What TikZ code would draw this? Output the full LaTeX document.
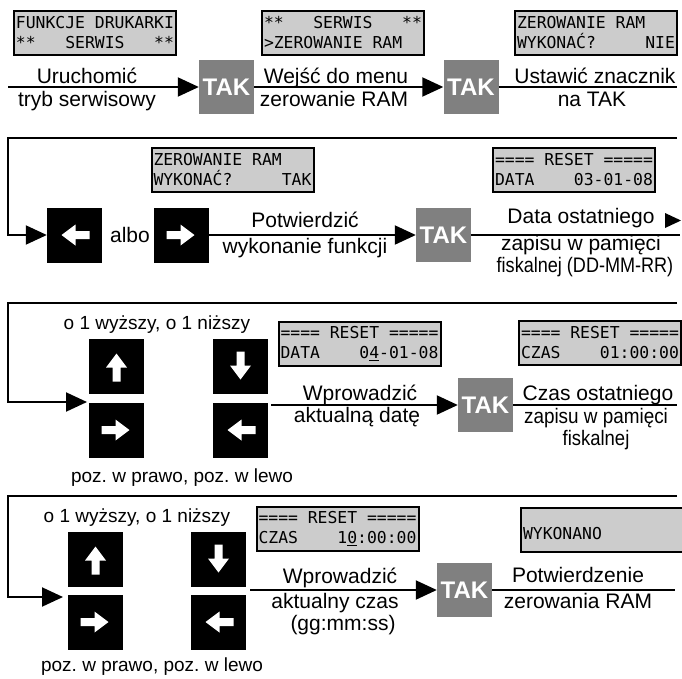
\documentclass[tikz,border=0pt]{standalone}
\usepackage{fontspec}
\setmainfont{Liberation Sans}
\newfontfamily\lcdfont{DejaVu Sans Mono}
\usepackage{graphicx}
\usetikzlibrary{arrows.meta}
\definecolor{lcdgrey}{RGB}{204,204,204}
\definecolor{takgrey}{RGB}{128,128,128}
\frenchspacing
\newcommand\lcdspace{\spaceskip=0.602em\relax}
\tikzset{
  flow/.style={line width=2pt},
  flowarr/.style={line width=2pt,-{Triangle[length=21pt,width=19pt]}},
  lcd/.style={draw,line width=2pt,fill=lcdgrey,inner xsep=2pt,inner ysep=2pt,text width=158pt,minimum height=44pt,align=left,font=\lcdfont\fontsize{16.4}{20}\selectfont,execute at begin node=\lcdspace},
  tak/.style={fill=takgrey,text=white,minimum width=55pt,minimum height=54pt,inner sep=0pt,font=\bfseries\fontsize{24}{24}\selectfont},
  key/.style={fill=black,minimum size=55pt,inner sep=0pt},
  lbl/.style={anchor=base,inner sep=0pt,font=\fontsize{21}{24}\selectfont},
  keylbl/.style={anchor=base,inner sep=0pt,font=\fontsize{19}{22}\selectfont},
  keyarr/.pic={\fill[white] (-13,0) -- (1,-10.5) -- (1,-4) -- (15,-4) -- (15,4) -- (1,4) -- (1,10.5) -- cycle;}
}
\begin{document}
\begin{tikzpicture}[x=1pt,y=-1pt]
\useasboundingbox (0,0) rectangle (682,678);

\node[lcd] (lcd1) at (95,33) {FUNKCJE~DRUKARKI\\{}**~~~SERWIS~~~**};
\node[lcd] (lcd2) at (343,33) {**~~~SERWIS~~~**\\>ZEROWANIE~RAM};
\node[lcd] (lcd3) at (596,33) {ZEROWANIE~RAM\\WYKONAĆ?~~~~~NIE};
\node[tak] (tak1) at (226.5,87) {TAK};
\node[tak] (tak2) at (471,87) {TAK};
\coordinate (s1) at (8,87);
\coordinate (e1) at (677,87);
\draw[flowarr] (s1) -- (tak1.west);
\draw[flowarr] (tak1.east) -- (tak2.west);
\draw[flow] (tak2.east) -- (e1);
\node[lbl] (u1) at (87,83) {Uruchomić};
\node[lbl] (u2) at (87,106) {tryb serwisowy};
\node[lbl] (w1) at (336,83) {Wejść do menu};
\node[lbl] (w2) at (334,106) {zerowanie RAM};
\node[lbl] (z1) at (595,83) {Ustawić znacznik};
\node[lbl] (z2) at (592,106) {na TAK};

\node[lcd] (lcd4) at (232.5,170) {ZEROWANIE~RAM\\WYKONAĆ?~~~~~TAK};
\node[lcd] (lcd5) at (574,170) {====~RESET~=====\\DATA~~~~03-01-08};
\node[key] (kl2) at (74.5,235) {};
\pic at (kl2) {keyarr};
\node[key] (kr2) at (181.5,235) {};
\pic[rotate=180] at (kr2) {keyarr};
\node[tak] (tak3) at (443.5,235) {TAK};
\coordinate (r2a) at (677,138);
\coordinate (r2b) at (8,138);
\coordinate (e2) at (680,235);
\draw[flowarr] (r2a) -- (r2b) |- (kl2.west);
\draw[flowarr] (kr2.east) -- (tak3.west);
\draw[flow] (tak3.east) -- (e2);
\fill (665,213) -- (681,220.5) -- (665,228) -- cycle;
\node[lbl] (albo) at (130,242) {albo};
\node[lbl] (p1) at (305,227) {Potwierdzić};
\node[lbl] (p2) at (305,253) {wykonanie funkcji};
\node[lbl] (d1) at (581,223) {Data ostatniego};
\node[lbl] (d2) at (581,250) {zapisu w pamięci};
\node[lbl] (d3) at (585,272) {\scalebox{0.86}[1]{fiskalnej (DD-MM-RR)}};

\node[lcd] (lcd6) at (359.5,343.5) {====~RESET~=====\\DATA~~~~0\underline{4}-01-08};
\node[lcd] (lcd7) at (600,343) {====~RESET~=====\\CZAS~~~~01:00:00};
\node[key] (up3) at (116.5,366.5) {};
\pic[rotate=-90] at (up3) {keyarr};
\node[key] (rt3) at (116.5,430) {};
\pic[rotate=180] at (rt3) {keyarr};
\node[key] (dn3) at (240.5,366.5) {};
\pic[rotate=90] at (dn3) {keyarr};
\node[key] (lf3) at (240.5,430) {};
\pic at (lf3) {keyarr};
\node[tak] (tak4) at (485.5,405) {TAK};
\coordinate (r3a) at (677,303);
\coordinate (r3b) at (8,303);
\coordinate (in3) at (87,402);
\coordinate (out3) at (271,405);
\coordinate (e3) at (677,405);
\draw[flowarr] (r3a) -- (r3b) |- (in3);
\draw[flowarr] (out3) -- (tak4.west);
\draw[flow] (tak4.east) -- (e3);
\node[keylbl] (g3) at (157,329) {o 1 wyższy, o 1 niższy};
\node[keylbl] (h3) at (182,482) {poz. w prawo, poz. w lewo};
\node[lbl] (v1) at (360,400) {Wprowadzić};
\node[lbl] (v2) at (357,422) {aktualną datę};
\node[lbl] (c1) at (598,400) {Czas ostatniego};
\node[lbl] (c2) at (596,423) {\scalebox{0.9}[1]{zapisu w pamięci}};
\node[lbl] (c3) at (596,445) {\scalebox{0.88}[1]{fiskalnej}};

\node[lcd] (lcd8) at (337.5,529) {====~RESET~=====\\CZAS~~~~1\underline{0}:00:00};
\node[lcd] (lcd9) at (602,529.5) {\mbox{}\\WYKONANO};
\node[key] (up4) at (95.5,559.5) {};
\pic[rotate=-90] at (up4) {keyarr};
\node[key] (rt4) at (95.5,622) {};
\pic[rotate=180] at (rt4) {keyarr};
\node[key] (dn4) at (218.5,559.5) {};
\pic[rotate=90] at (dn4) {keyarr};
\node[key] (lf4) at (218.5,622) {};
\pic at (lf4) {keyarr};
\node[tak] (tak5) at (464.5,590) {TAK};
\coordinate (r4a) at (677,496);
\coordinate (r4b) at (8,496);
\coordinate (in4) at (63,597);
\coordinate (out4) at (250,590);
\coordinate (e4) at (675,590);
\draw[flowarr] (r4a) -- (r4b) |- (in4);
\draw[flowarr] (out4) -- (tak5.west);
\draw[flow] (tak5.east) -- (e4);
\node[keylbl] (g4) at (137,522) {o 1 wyższy, o 1 niższy};
\node[keylbl] (h4) at (152,671) {poz. w prawo, poz. w lewo};
\node[lbl] (v3) at (340,583) {Wprowadzić};
\node[lbl] (v4) at (335,608) {aktualny czas};
\node[lbl] (v5) at (343,630) {(gg:mm:ss)};
\node[lbl] (q1) at (578,582) {Potwierdzenie};
\node[lbl] (q2) at (578,608) {zerowania RAM};
\end{tikzpicture}
\end{document}
